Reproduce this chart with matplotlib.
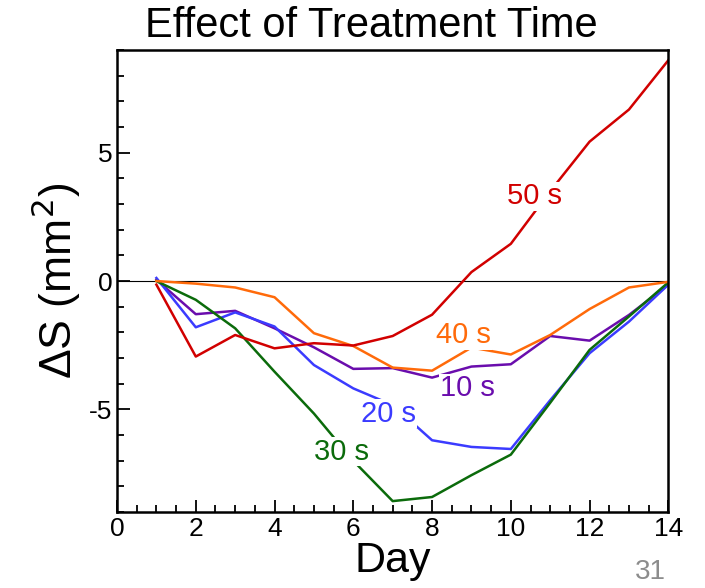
import numpy as np
import matplotlib.pyplot as plt
from matplotlib.ticker import MultipleLocator

plt.rcParams['font.family'] = ['Liberation Sans', 'DejaVu Sans']
plt.rcParams['axes.unicode_minus'] = False

days = np.arange(1, 15)

# change in area per treatment time (mm^2)
s10 = [0.05, -1.29, -1.16, -1.84, -2.58, -3.42, -3.39, -3.76, -3.33, -3.24, -2.14, -2.32, -1.32, -0.14]
s20 = [0.12, -1.80, -1.22, -1.77, -3.27, -4.18, -4.83, -6.20, -6.46, -6.54, -4.64, -2.81, -1.58, -0.14]
s30 = [0.00, -0.73, -1.84, -3.53, -5.16, -7.00, -8.57, -8.41, -7.56, -6.76, -4.74, -2.68, -1.38, -0.05]
s40 = [0.00, -0.10, -0.25, -0.63, -2.03, -2.53, -3.37, -3.49, -2.59, -2.86, -2.10, -1.09, -0.25, -0.03]
s50 = [-0.14, -2.94, -2.10, -2.62, -2.42, -2.51, -2.14, -1.31, 0.35, 1.45, 3.50, 5.43, 6.68, 8.60]

series = [
    ('10 s', s10, '#6a0dad', (8.9, -4.18)),
    ('20 s', s20, '#3b3bff', (6.9, -5.16)),
    ('30 s', s30, '#0b6b0b', (5.7, -6.65)),
    ('40 s', s40, '#ff6a0a', (8.8, -2.1)),
    ('50 s', s50, '#d10000', (10.6, 3.3)),
]

fig = plt.figure(figsize=(7.05, 5.88), dpi=100)
ax = fig.add_axes([0.166, 0.129, 0.782, 0.786])

ax.axhline(0, color='black', lw=0.8, zorder=1)
for name, vals, col, pos in series:
    ax.plot(days, vals, color=col, lw=1.8, zorder=2)
for name, vals, col, pos in series:
    ax.text(pos[0], pos[1], name, color=col, fontsize=21, ha='center', va='center',
            zorder=3, bbox=dict(facecolor='white', edgecolor='none', pad=0.5))

ax.set_xlim(0, 14)
ax.set_ylim(-9, 9)
ax.set_xticks(np.arange(0, 15, 2))
ax.set_yticks([-5, 0, 5])
ax.xaxis.set_minor_locator(MultipleLocator(0.5))
ax.yaxis.set_minor_locator(MultipleLocator(1))
ax.tick_params(which='both', direction='in', top=False, right=False, labelsize=19, width=1.3)
ax.tick_params(which='major', length=9)
ax.tick_params(which='minor', length=5)
for sp in ax.spines.values():
    sp.set_linewidth(1.8)

ax.set_xlabel('Day', fontsize=31, labelpad=0)
ax.set_ylabel('ΔS (mm$^2$)', fontsize=32, labelpad=4)
fig.text(0.526, 0.955, 'Effect of Treatment Time', fontsize=30, ha='center', va='center')

fig.text(0.922, 0.027, '31', fontsize=20, color='#8c8c8c', ha='center', va='center')

fig.savefig('out.png', dpi=100)
